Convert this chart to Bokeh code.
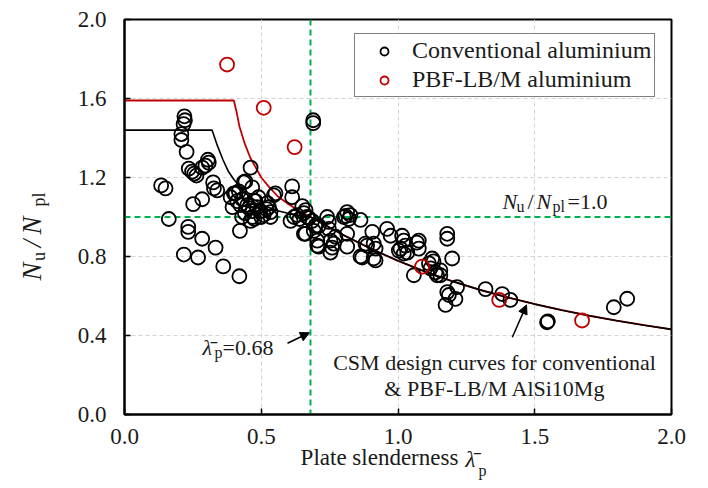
import math
from bokeh.plotting import figure
from bokeh.models import (Span, Label, Arrow, NormalHead, Legend, LegendItem,
                          FixedTicker, NumeralTickFormatter, Range1d, LinearAxis)
from bokeh.embed import file_html
from bokeh.resources import INLINE

# ---------------- data ----------------
conv_x = [0.134, 0.150, 0.162, 0.219, 0.221, 0.216, 0.208, 0.208, 0.227, 0.305,
          0.308, 0.296, 0.284, 0.235, 0.247, 0.263, 0.255, 0.324, 0.327, 0.339,
          0.284, 0.251, 0.233, 0.233, 0.284, 0.217, 0.269, 0.333, 0.361, 0.420,
          0.422,
          0.388, 0.400, 0.406, 0.418, 0.412, 0.430, 0.442, 0.461, 0.467, 0.449,
          0.467, 0.479, 0.485, 0.467, 0.461, 0.497, 0.522, 0.546, 0.552, 0.534,
          0.534, 0.509, 0.440, 0.455, 0.430, 0.475, 0.500, 0.395, 0.520, 0.424,
          0.490, 0.436, 0.473, 0.528,
          0.613, 0.613, 0.607, 0.631, 0.650, 0.656, 0.656, 0.668, 0.686, 0.692,
          0.705, 0.710, 0.705, 0.690, 0.690, 0.620, 0.640, 0.662, 0.674, 0.698,
          0.662, 0.710,
          0.741, 0.747, 0.747, 0.753, 0.753, 0.771, 0.765, 0.759, 0.802, 0.814,
          0.826, 0.808, 0.820, 0.814, 0.814,
          0.863, 0.863, 0.869, 0.906, 0.881, 0.887, 0.911, 0.918, 0.918, 0.911,
          0.960, 0.973, 1.015, 1.021, 1.009, 1.027, 1.021, 1.003, 1.034, 1.076,
          1.069, 1.076, 1.058,
          1.180, 1.180, 1.198, 1.125, 1.113, 1.119, 1.137, 1.155, 1.143, 1.155,
          1.180, 1.186, 1.174, 1.210, 1.216, 1.130,
          1.320, 1.381, 1.411, 1.545, 1.548, 1.789, 1.838]
conv_y = [1.160, 1.145, 0.990, 1.510, 1.490, 1.470, 1.420, 1.390, 1.330, 1.290,
          1.275, 1.260, 1.250, 1.245, 1.230, 1.210, 1.220, 1.175, 1.145, 1.135,
          1.090, 1.065, 0.950, 0.925, 0.890, 0.810, 0.795, 0.845, 0.750, 0.700,
          0.930,
          1.100, 1.120, 1.120, 1.130, 1.080, 1.090, 1.180, 1.250, 1.150, 1.060,
          1.030, 1.080, 1.050, 1.000, 0.980, 1.030, 1.070, 1.110, 1.120, 1.025,
          1.000, 1.010, 1.020, 1.045, 1.000, 0.990, 1.000, 1.050, 1.040, 1.060,
          1.100, 1.176, 1.084, 1.050,
          1.155, 1.100, 0.980, 1.010, 1.055, 1.020, 0.915, 1.000, 0.980, 0.930,
          0.880, 0.955, 0.855, 1.490, 1.475, 1.000, 0.990, 1.035, 0.995, 0.955,
          0.915, 0.850,
          1.000, 0.975, 0.940, 0.880, 0.820, 0.900, 0.865, 0.845, 1.000, 1.025,
          1.010, 1.005, 0.990, 0.915, 0.850,
          0.985, 0.800, 0.795, 0.925, 0.865, 0.855, 0.865, 0.840, 0.780, 0.790,
          0.940, 0.905, 0.905, 0.880, 0.840, 0.855, 0.815, 0.830, 0.820, 0.880,
          0.870, 0.840, 0.705,
          0.915, 0.890, 0.790, 0.790, 0.765, 0.740, 0.720, 0.705, 0.705, 0.730,
          0.620, 0.605, 0.555, 0.585, 0.645, 0.775,
          0.635, 0.610, 0.580, 0.467, 0.472, 0.543, 0.586]

pbf_x = [0.375, 0.509, 0.622, 1.088, 1.370, 1.673]
pbf_y = [1.772, 1.553, 1.354, 0.749, 0.580, 0.476]

# CSM design curves
csm_conv_x = [0.00, 0.32, 0.33, 0.34, 0.36, 0.38, 0.40, 0.43, 0.46, 0.50, 0.55,
              0.60, 0.64, 0.68, 0.75, 0.80, 0.90, 1.00, 1.10, 1.20, 1.30, 1.40,
              1.50, 1.60, 1.70, 1.80, 1.90, 2.00]
csm_conv_y = [1.44, 1.44, 1.40, 1.36, 1.29, 1.23, 1.19, 1.14, 1.10, 1.065, 1.035,
              1.018, 1.008, 1.000, 0.947, 0.909, 0.840, 0.778, 0.723, 0.674, 0.631,
              0.593, 0.559, 0.528, 0.500, 0.475, 0.452, 0.431]
csm_pbf_x = [0.00, 0.40, 0.41, 0.42, 0.44, 0.46, 0.48, 0.50, 0.53, 0.56, 0.60,
             0.64, 0.68, 0.75, 0.80, 0.90, 1.00, 1.10, 1.20, 1.30, 1.40, 1.50,
             1.60, 1.70, 1.80, 1.90, 2.00]
csm_pbf_y = [1.59, 1.59, 1.53, 1.46, 1.37, 1.30, 1.25, 1.20, 1.15, 1.105, 1.065,
             1.030, 1.000, 0.947, 0.909, 0.840, 0.778, 0.723, 0.674, 0.631, 0.593,
             0.559, 0.528, 0.500, 0.475, 0.452, 0.431]

lambda_limit = 0.68
ratio_one = 1.0
x_ticks = [0.0, 0.5, 1.0, 1.5, 2.0]
y_ticks = [0.0, 0.4, 0.8, 1.2, 1.6, 2.0]

# ---------------- figure ----------------
FONT = "Liberation Serif"
RED = "#c00000"
GREEN = "#00b050"
TXT = "#1a1a1a"
FL, FT, FW, FH = 124, 19, 547, 395   # frame position on the page (px)

p = figure(frame_width=FW, frame_height=FH,
           x_range=Range1d(0, 2), y_range=Range1d(0, 2),
           min_border_left=FL, min_border_right=22,
           min_border_top=FT, min_border_bottom=66,
           output_backend="svg", toolbar_location=None)
# pixel ranges used only to place the title pieces
p.extra_x_ranges = {"px": Range1d(FL, FL + FW)}
p.extra_y_ranges = {"py": Range1d(FT + FH, FT)}

p.background_fill_color = "white"
p.border_fill_color = "white"
p.outline_line_color = "black"
p.outline_line_width = 2
p.outline_line_alpha = 1

for ax, ticks in ((p.xaxis[0], x_ticks), (p.yaxis[0], y_ticks)):
    ax.ticker = FixedTicker(ticks=ticks)
    ax.formatter = NumeralTickFormatter(format="0.0")
    ax.major_label_text_font = FONT
    ax.major_label_text_font_size = "23px"
    ax.major_label_text_color = TXT
    ax.axis_line_width = 2
    ax.axis_line_color = "black"
    ax.major_tick_in = 6
    ax.major_tick_out = 0
    ax.minor_tick_out = 0
    ax.minor_tick_in = 0
    ax.major_tick_line_width = 1.5
    ax.minor_tick_line_color = None
    ax.axis_label = None
p.xaxis.major_label_standoff = 14
p.yaxis.major_label_standoff = 18

p.grid.grid_line_color = "#d3d3d3"
p.grid.grid_line_dash = "4 3"
p.grid.grid_line_width = 1


def title_axis(side, pieces, size, style, standoff):
    """An axis with no line or ticks whose tick labels are title text pieces."""
    if side == "below":
        ax = LinearAxis(x_range_name="px")
    else:
        ax = LinearAxis(y_range_name="py")
        ax.major_label_orientation = "vertical"
    ticks = [pos for pos, _ in pieces]
    ax.ticker = FixedTicker(ticks=ticks, minor_ticks=[])
    ax.major_label_overrides = {pos: s for pos, s in pieces}
    ax.axis_line_color = None
    ax.major_tick_line_color = None
    ax.minor_tick_line_color = None
    ax.major_tick_in = 0
    ax.major_tick_out = 0
    ax.minor_tick_in = 0
    ax.minor_tick_out = 0
    ax.major_label_standoff = standoff
    ax.major_label_text_font = FONT
    ax.major_label_text_font_size = size
    ax.major_label_text_font_style = style
    ax.major_label_text_color = TXT
    p.add_layout(ax, side)


# x title: "Plate slenderness λ̄p"
title_axis("below", [(379, "Plate slenderness")], "23px", "normal", -2)
title_axis("below", [(470, "\u03bb\u0304")], "23px", "italic", -26)
title_axis("below", [(482, "p")], "16px", "normal", -13)
# y title: "Nu/Npl"
title_axis("left", [(271, "N"), (243, "/"), (225, "N")], "27px", "italic", 28)
title_axis("left", [(256, "u"), (199, "pl")], "18px", "normal", -35)

# green reference lines
p.add_layout(Span(location=lambda_limit, dimension="height", line_color=GREEN,
                  line_width=2, line_dash="6 4", level="underlay"))
p.add_layout(Span(location=ratio_one, dimension="width", line_color=GREEN,
                  line_width=2, line_dash="6 4", level="underlay"))

# design curves
p.line(csm_pbf_x, csm_pbf_y, line_color=RED, line_width=1.8)
p.line(csm_conv_x, csm_conv_y, line_color="black", line_width=1.6)

# data points
r_conv = p.scatter(conv_x, conv_y, size=14, fill_color=None, line_color="black",
                   line_width=1.8)
r_pbf = p.scatter(pbf_x, pbf_y, size=14, fill_color=None, line_color=RED,
                  line_width=1.8)

legend = Legend(items=[LegendItem(label="Conventional aluminium", renderers=[r_conv]),
                       LegendItem(label="PBF-LB/M aluminium", renderers=[r_pbf])],
                location=(354 - FL, FT + FH - 97))
legend.label_text_font = FONT
legend.label_text_font_size = "24px"
legend.label_text_color = TXT
legend.border_line_color = "black"
legend.border_line_width = 1.5
legend.background_fill_alpha = 1
legend.padding = 3
legend.spacing = 2
legend.margin = 0
legend.glyph_width = 52
legend.glyph_height = 20
legend.label_standoff = 2
p.add_layout(legend)


def dx(px):
    return (px - FL) * 2.0 / FW


def dy(py):
    return (FT + FH - py) * 2.0 / FH


def txt(s, px, py, size="22px", style="normal", align="left"):
    p.add_layout(Label(x=dx(px), y=dy(py), text=s, text_font=FONT,
                       text_font_size=size, text_font_style=style,
                       text_align=align, text_baseline="alphabetic",
                       text_color=TXT))


# N_u/N_pl = 1.0
txt("N", 502, 201, style="italic")
txt("u", 516, 206, size="16px")
txt("/", 527, 201)
txt("N", 536, 201, style="italic")
txt("pl", 552, 206, size="16px")
txt("=1.0", 567, 201)

# lambda_p = 0.68
txt("\u03bb\u0304", 202, 347, style="italic")
txt("p", 214, 352, size="16px")
txt("=0.68", 222, 347)
p.add_layout(Arrow(end=NormalHead(size=9, fill_color="black", line_color="black"),
                   x_start=0.596, y_start=0.361, x_end=0.676, y_end=0.414,
                   line_color="black", line_width=1.5))

# CSM annotation
txt("CSM design curves for conventional", 494, 362, align="center")
txt("& PBF-LB/M AlSi10Mg", 494.5, 388, align="center")
p.add_layout(Arrow(end=NormalHead(size=9, fill_color="black", line_color="black"),
                   x_start=1.418, y_start=0.391, x_end=1.470, y_end=0.555,
                   line_color="black", line_width=1.5))

open("out.html", "w").write(file_html(p, INLINE))
